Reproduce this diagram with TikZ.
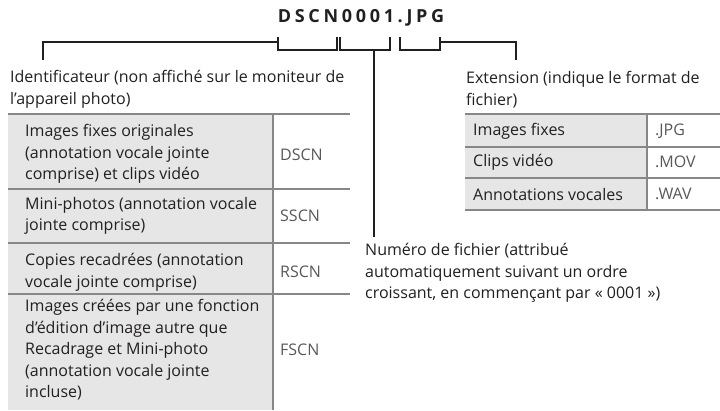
\documentclass[tikz,border=0pt]{standalone}
\usepackage{fontspec}
\setmainfont{Open Sans}
\usepackage{xcolor}
\usetikzlibrary{positioning}
\definecolor{cellgray}{RGB}{230,230,230}
\definecolor{rulegray}{RGB}{135,135,135}
\definecolor{inkblack}{RGB}{35,31,32}

\begin{document}
\begin{tikzpicture}[x=1pt, y=-1pt,
    every node/.style={font=\fontsize{16}{21.5}\selectfont, text=inkblack, inner sep=0pt},
    lbl/.style={anchor=west, align=left},
    code/.style={anchor=west, text=inkblack!75},
    brk/.style={draw=inkblack, line width=1.8pt},
    rulel/.style={draw=rulegray, line width=2.6pt}]

  \useasboundingbox (0,0) rectangle (720,410);

  %% file name
  \node[font=\fontsize{18}{20}\selectfont\bfseries\addfontfeature{LetterSpace=20.5}] (fname) at (361,18) {DSCN0001.JPG};

  %% brackets under the name
  \coordinate (pfxL) at (278,37);  \coordinate (pfxR) at (337,37);
  \coordinate (numL) at (340,37);  \coordinate (numR) at (390,37);
  \coordinate (extL) at (400,37);  \coordinate (extR) at (440,37);
  \draw[brk] (pfxL) -- ++(0,13) -| (pfxR);
  \draw[brk] (numL) -- ++(0,13) -| (numR);
  \draw[brk] (extL) -- ++(0,13) -| (extR);

  %% labels
  \node[lbl] (ident) at (10,89.5)
    {Identificateur (non affiché sur le moniteur de\\l'appareil photo)};
  \node[lbl] (extn) at (466,89.5)
    {Extension (indique le format de\\fichier)};
  \node[lbl] (numero) at (365,273)
    {Numéro de fichier (attribué\\automatiquement suivant un ordre\\croissant, en commençant par « 0001 »)};

  %% leads
  \coordinate (identTop) at (43,60);
  \coordinate (extnTop) at (516,60);
  \coordinate (numMid) at (374,50);
  \coordinate (numeroTop) at (374,237);
  \draw[brk] ([yshift=-5pt]pfxL) -| (identTop);
  \draw[brk] ([yshift=-5pt]extR) -| (extnTop);
  \draw[brk] (numMid) -- (numeroTop);

  %% prefix table
  \fill[cellgray] (8,114) rectangle (273,410);
  \foreach \y in {114,189,243,294}
    \draw[rulel] (8,\y) -- (350,\y);
  \draw[rulel] (273,114) -- (273,410);

  \node[lbl] (dscnD) at (25,154)
    {Images fixes originales\\(annotation vocale jointe\\comprise) et clips vidéo};
  \node[code] (dscnC) at (280,155) {DSCN};
  \node[lbl] (sscnD) at (25,216)
    {Mini-photos (annotation vocale\\jointe comprise)};
  \node[code] (sscnC) at (280,216) {SSCN};
  \node[lbl] (rscnD) at (25,272.5)
    {Copies recadrées (annotation\\vocale jointe comprise)};
  \node[code] (rscnC) at (280,272) {RSCN};
  \node[lbl] (fscnD) at (25,350)
    {Images créées par une fonction\\d'édition d'image autre que\\Recadrage et Mini-photo\\(annotation vocale jointe\\incluse)};
  \node[code] (fscnC) at (280,350) {FSCN};

  %% extension table
  \fill[cellgray] (465,114) rectangle (647,210);
  \foreach \y in {114,147,178,210}
    \draw[rulel] (465,\y) -- (720,\y);
  \draw[rulel] (647,114) -- (647,210);

  \node[lbl] (jpgD) at (473,131) {Images fixes};
  \node[code] (jpgC) at (655,131) {.JPG};
  \node[lbl] (movD) at (473,162) {Clips vidéo};
  \node[code] (movC) at (655,162) {.MOV};
  \node[lbl] (wavD) at (473,194) {Annotations vocales};
  \node[code] (wavC) at (655,194) {.WAV};
\end{tikzpicture}
\end{document}
